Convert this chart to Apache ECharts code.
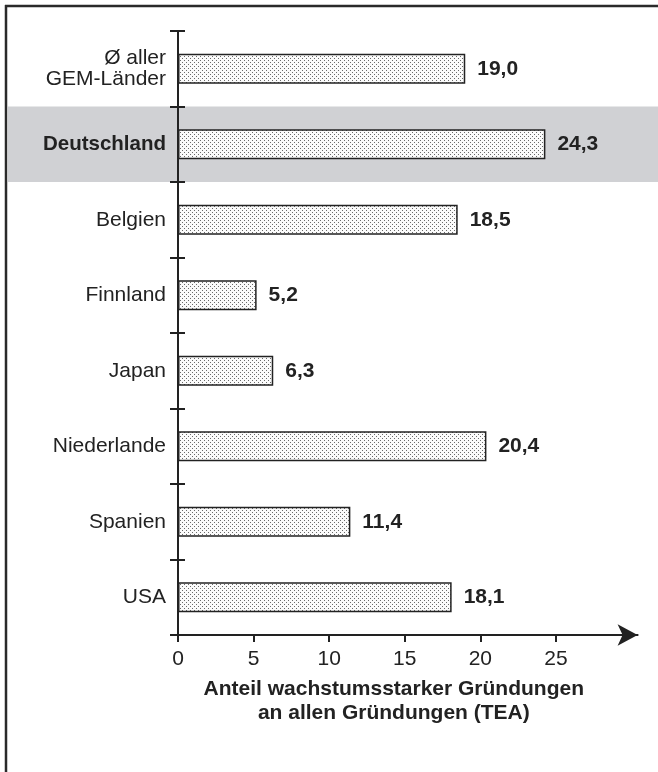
<!DOCTYPE html>
<html>
<head>
<meta charset="utf-8">
<script src="https://cdn.jsdelivr.net/npm/echarts@6/dist/echarts.min.js"></script>
<style>
html,body{margin:0;padding:0;background:#fff;}
#c{width:658px;height:772px;}
</style>
</head>
<body>
<div id="c"></div>
<script>
const categories = ['Ø aller\nGEM-Länder', 'Deutschland', 'Belgien', 'Finnland', 'Japan', 'Niederlande', 'Spanien', 'USA'];
const values = [19.0, 24.3, 18.5, 5.2, 6.3, 20.4, 11.4, 18.1];
const xTicks = [0, 5, 10, 15, 20, 25];
const highlight = 'Deutschland';
const xName = 'Anteil wachstumsstarker Gründungen\nan allen Gründungen (TEA)';

const FONT = '"Liberation Sans", Arial, Helvetica, sans-serif';
const INK = '#222';

// dotted fill pattern
const pc = document.createElement('canvas');
pc.width = 4; pc.height = 4;
const px = pc.getContext('2d');
px.fillStyle = '#fbfbfb'; px.fillRect(0, 0, 4, 4);
px.fillStyle = '#6a6a6a';
px.fillRect(0, 0, 1, 1);
px.fillRect(2, 2, 1, 1);

const chart = echarts.init(document.getElementById('c'), null, {renderer: 'canvas'});

const option = {
  animation: false,
  backgroundColor: '#fff',
  grid: {left: 178, top: 31, width: 459.6, height: 604, containLabel: false},
  xAxis: {
    type: 'value', min: 0, max: 30.4,
    axisLine: {show: true, lineStyle: {color: INK, width: 2}, symbol: ['none', 'arrow'], symbolSize: [16, 20]},
    axisTick: {show: true, length: 7, lineStyle: {color: INK, width: 2}, customValues: xTicks},
    axisLabel: {color: INK, fontSize: 21, fontFamily: FONT, margin: 14, customValues: xTicks},
    splitLine: {show: false},
    name: xName, nameLocation: 'middle', nameGap: 42,
    nameTextStyle: {color: INK, fontSize: 21, fontWeight: 'bold', fontFamily: FONT, lineHeight: 24, padding: [0, 28, 0, 0]}
  },
  yAxis: [{
    type: 'category', data: categories, inverse: true,
    axisLine: {show: true, lineStyle: {color: INK, width: 2}},
    axisTick: {show: true, length: 8, alignWithLabel: false, lineStyle: {color: INK, width: 2}},
    axisLabel: {
      color: INK, fontSize: 21, fontFamily: FONT, margin: 12, lineHeight: 21, align: 'right',
      formatter: v => v === highlight ? '{b|' + v + '}' : v,
      rich: {b: {fontWeight: 'bold', fontSize: 20.5, fontFamily: FONT, color: INK}}
    },
    splitLine: {show: false}
  }, {
    type: 'category', data: categories, inverse: true, position: 'left',
    axisLine: {show: false},
    axisTick: {show: true, inside: true, length: 7, alignWithLabel: false, lineStyle: {color: INK, width: 2}},
    axisLabel: {show: false},
    splitLine: {show: false}
  }],
  series: [{
    type: 'bar', data: values, barWidth: 30, yAxisIndex: 0, z: 3,
    itemStyle: {color: {image: pc, repeat: 'repeat'}, borderColor: INK, borderWidth: 1.5},
    label: {
      show: true, position: 'right', distance: 12, color: INK, fontSize: 21, fontWeight: 'bold', fontFamily: FONT,
      formatter: p => p.value.toFixed(1).replace('.', ',')
    }
  }]
};
chart.setOption(option);

// highlight band behind the "Deutschland" row, computed from the category scale
const idx = categories.indexOf(highlight);
const cy = chart.convertToPixel({yAxisIndex: 0}, idx);
const y0 = chart.convertToPixel({yAxisIndex: 0}, 0);
const y1 = chart.convertToPixel({yAxisIndex: 0}, 1);
const band = Math.abs(y1 - y0);
chart.setOption({
  graphic: [
    {type: 'rect', z: -10, silent: true, shape: {x: 8, y: cy - band / 2, width: 650, height: band}, style: {fill: '#d0d1d4'}},
    {type: 'line', z: 10, silent: true, shape: {x1: 6, y1: 5, x2: 6, y2: 772}, style: {stroke: '#2a2a2a', lineWidth: 2.5}},
    {type: 'line', z: 10, silent: true, shape: {x1: 5, y1: 6, x2: 658, y2: 6}, style: {stroke: '#2a2a2a', lineWidth: 2.5}}
  ]
});
</script>
</body>
</html>
